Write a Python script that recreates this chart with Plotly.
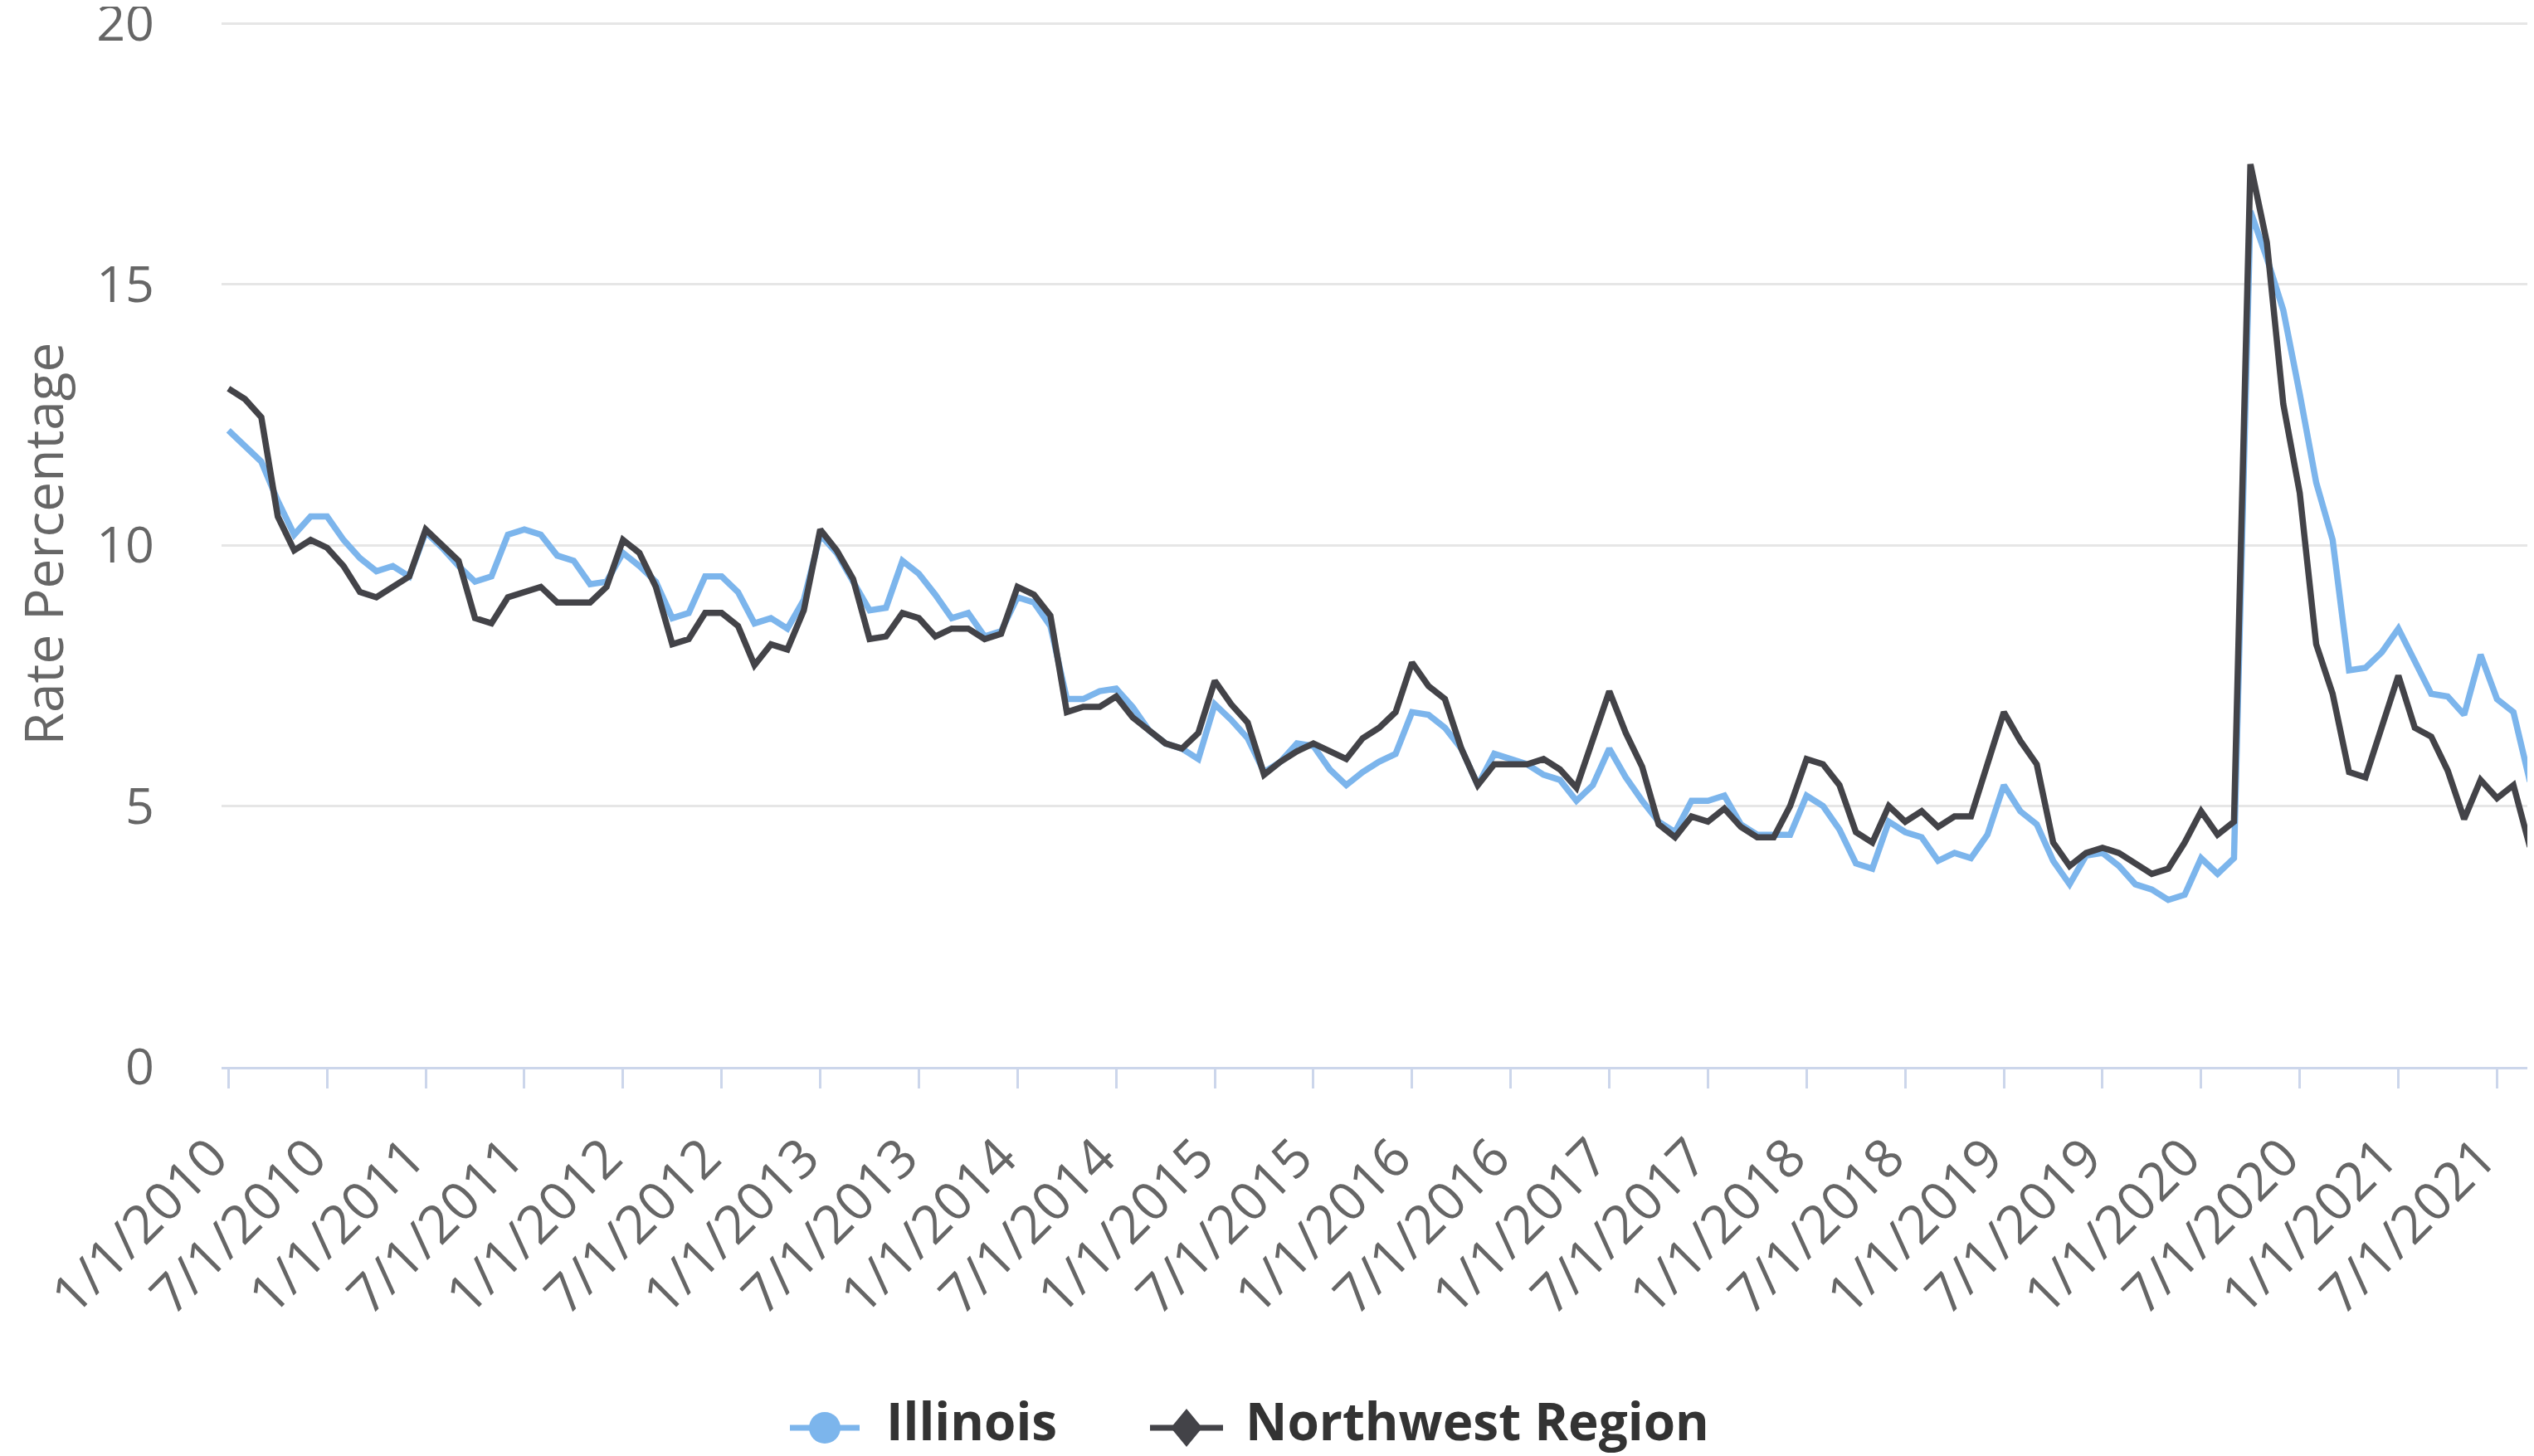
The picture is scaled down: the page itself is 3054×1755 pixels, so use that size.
import plotly.graph_objects as go

MONTHS = [f"{m}/1/{y}" for y in range(2010, 2022) for m in range(1, 13)][:141]

TICK_LABELS = [
    "1/1/2010", "7/1/2010", "1/1/2011", "7/1/2011", "1/1/2012", "7/1/2012",
    "1/1/2013", "7/1/2013", "1/1/2014", "7/1/2014", "1/1/2015", "7/1/2015",
    "1/1/2016", "7/1/2016", "1/1/2017", "7/1/2017", "1/1/2018", "7/1/2018",
    "1/1/2019", "7/1/2019", "1/1/2020", "7/1/2020", "1/1/2021", "7/1/2021",
]

Y_TICKS = [0, 5, 10, 15, 20]

ILLINOIS = [
    12.2, 11.9, 11.6, 10.85, 10.2, 10.55, 10.55, 10.1, 9.75, 9.5, 9.6, 9.4,
    10.25, 9.95, 9.6, 9.3, 9.4, 10.2, 10.3, 10.2, 9.8, 9.7, 9.25, 9.3,
    9.85, 9.6, 9.3, 8.6, 8.7, 9.4, 9.4, 9.1, 8.5, 8.6, 8.4, 8.95,
    10.2, 9.85, 9.3, 8.75, 8.8, 9.7, 9.45, 9.05, 8.6, 8.7, 8.25, 8.35,
    9.0, 8.9, 8.45, 7.05, 7.05, 7.2, 7.25, 6.9, 6.45, 6.2, 6.1, 5.9,
    6.95, 6.65, 6.3, 5.65, 5.85, 6.2, 6.15, 5.7, 5.4, 5.65, 5.85, 6.0,
    6.8, 6.75, 6.5, 6.1, 5.4, 6.0, 5.9, 5.8, 5.6, 5.5, 5.1, 5.4,
    6.1, 5.55, 5.1, 4.7, 4.5, 5.1, 5.1, 5.2, 4.65, 4.45, 4.45, 4.45,
    5.2, 5.0, 4.55, 3.9, 3.8, 4.7, 4.5, 4.4, 3.95, 4.1, 4.0, 4.45,
    5.4, 4.9, 4.65, 3.95, 3.5, 4.05, 4.1, 3.85, 3.5, 3.4, 3.2, 3.3,
    4.0, 3.7, 4.0, 16.4, 15.5, 14.5, 12.9, 11.2, 10.1, 7.6, 7.65, 7.95,
    8.4, 7.8, 7.15, 7.1, 6.75, 7.9, 7.05, 6.8, 5.47,
]

NORTHWEST = [
    13.0, 12.8, 12.45, 10.55, 9.9, 10.1, 9.95, 9.6, 9.1, 9.0, 9.2, 9.4,
    10.3, 10.0, 9.7, 8.6, 8.5, 9.0, 9.1, 9.2, 8.9, 8.9, 8.9, 9.2,
    10.1, 9.85, 9.2, 8.1, 8.2, 8.7, 8.7, 8.45, 7.7, 8.1, 8.0, 8.75,
    10.3, 9.9, 9.35, 8.2, 8.25, 8.7, 8.6, 8.25, 8.4, 8.4, 8.2, 8.3,
    9.2, 9.05, 8.65, 6.8, 6.9, 6.9, 7.1, 6.7, 6.45, 6.2, 6.1, 6.4,
    7.4, 6.95, 6.6, 5.6, 5.85, 6.05, 6.2, 6.05, 5.9, 6.3, 6.5, 6.8,
    7.75, 7.3, 7.05, 6.1, 5.4, 5.8, 5.8, 5.8, 5.9, 5.7, 5.35, 6.3,
    7.2, 6.4, 5.75, 4.65, 4.4, 4.8, 4.7, 4.95, 4.6, 4.4, 4.4, 5.0,
    5.9, 5.8, 5.4, 4.5, 4.3, 5.0, 4.7, 4.9, 4.6, 4.8, 4.8, 5.8,
    6.8, 6.25, 5.8, 4.3, 3.85, 4.1, 4.2, 4.1, 3.9, 3.7, 3.8, 4.3,
    4.9, 4.45, 4.7, 17.3, 15.8, 12.7, 11.0, 8.1, 7.15, 5.65, 5.55, 6.5,
    7.5, 6.5, 6.33, 5.68, 4.75, 5.5, 5.15, 5.4, 4.22,
]

SERIES_NAMES = ["Illinois", "Northwest Region"]
SERIES_VALUES = [ILLINOIS, NORTHWEST]
SERIES_COLORS = ["#7cb5ec", "#434348"]

# ---- layout geometry ----
# The page body keeps the browser's default 8px margin, so the figure is drawn
# 8px right/down of the window origin; window positions are converted with OFF.
OFF = 8
W, H = 3054, 1755
WIN_PLOT_L, WIN_PLOT_R, WIN_PLOT_T, WIN_PLOT_B = 267, 3054, 25, 1286
ML = WIN_PLOT_L - OFF
MR = W - (WIN_PLOT_R - OFF)
MT = WIN_PLOT_T - OFF
MB = H - (WIN_PLOT_B - OFF)
PW, PH = W - ML - MR, H - MT - MB


def px_x(win_px):
    return (win_px - OFF - ML) / PW


def px_y(win_py):
    return (H - MB - (win_py - OFF)) / PH


fig = go.Figure()
for name, vals, color in zip(SERIES_NAMES, SERIES_VALUES, SERIES_COLORS):
    fig.add_trace(go.Scatter(
        x=MONTHS, y=vals, mode="lines", name=name,
        line=dict(color=color, width=7.5), showlegend=False,
        hovertemplate="%{x}<br>" + name + ": %{y}<extra></extra>",
    ))

# ---- custom legend (Highcharts-style line + marker symbols) ----
LEG_Y = 1721
TEXT_Y = 1712
shapes = []
annotations = []
legend_items = [
    # (line x0, line x1, marker centre, text x, marker type) in window pixels
    (952, 1036, 994, 1066, "circle"),
    (1386, 1474, 1430, 1499, "diamond"),
]
for (lx0, lx1, mc, tx, mtype), name, color in zip(legend_items, SERIES_NAMES, SERIES_COLORS):
    shapes.append(dict(type="line", xref="paper", yref="paper",
                       x0=px_x(lx0), x1=px_x(lx1), y0=px_y(LEG_Y), y1=px_y(LEG_Y),
                       line=dict(color=color, width=7)))
    if mtype == "circle":
        r = 19
        shapes.append(dict(type="circle", xref="paper", yref="paper",
                           x0=px_x(mc - r), x1=px_x(mc + r),
                           y0=px_y(LEG_Y + r), y1=px_y(LEG_Y - r),
                           fillcolor=color, line=dict(width=0)))
    else:
        hw, hh = 19, 23
        path = (f"M {px_x(mc)} {px_y(LEG_Y - hh)} L {px_x(mc + hw)} {px_y(LEG_Y)} "
                f"L {px_x(mc)} {px_y(LEG_Y + hh)} L {px_x(mc - hw)} {px_y(LEG_Y)} Z")
        shapes.append(dict(type="path", xref="paper", yref="paper", path=path,
                           fillcolor=color, line=dict(width=0)))
    annotations.append(dict(
        xref="paper", yref="paper", x=px_x(tx), y=px_y(TEXT_Y),
        xanchor="left", yanchor="middle", showarrow=False, text=name,
        font=dict(family="Open Sans", size=62, color="#333333", weight="bold"),
    ))

fig.update_layout(
    width=W, height=H,
    margin=dict(l=ML, r=MR, t=MT, b=MB, autoexpand=False),
    paper_bgcolor="white", plot_bgcolor="white",
    font=dict(family="Open Sans", color="#666666"),
    showlegend=False,
    shapes=shapes,
    annotations=annotations,
    xaxis=dict(
        type="category", categoryorder="array", categoryarray=MONTHS,
        range=[-0.42, 140.25], automargin=False,
        tickmode="array", tickvals=TICK_LABELS, ticktext=TICK_LABELS,
        tickangle=-45, tickfont=dict(size=64, color="#666666"),
        showgrid=False, showline=True, linecolor="#ccd6eb", linewidth=3,
        ticks="outside", ticklen=23, tickwidth=3, tickcolor="#ccd6eb",
        ticklabelstandoff=20, ticklabelshift=-20, zeroline=False,
        ticklabeloverflow="allow",
    ),
    yaxis=dict(
        range=[0, 20.05], tickmode="array", tickvals=Y_TICKS, automargin=False,
        tickfont=dict(size=61, color="#666666"),
        showgrid=True, gridcolor="#e6e6e6", gridwidth=2.5,
        zeroline=False, showline=False, ticks="",
        ticklabelstandoff=80, ticklabeloverflow="allow",
        title=dict(text="Rate Percentage", font=dict(size=64, color="#666666"), standoff=100),
    ),
)

fig.write_html("out.html", config={"displayModeBar": False})
